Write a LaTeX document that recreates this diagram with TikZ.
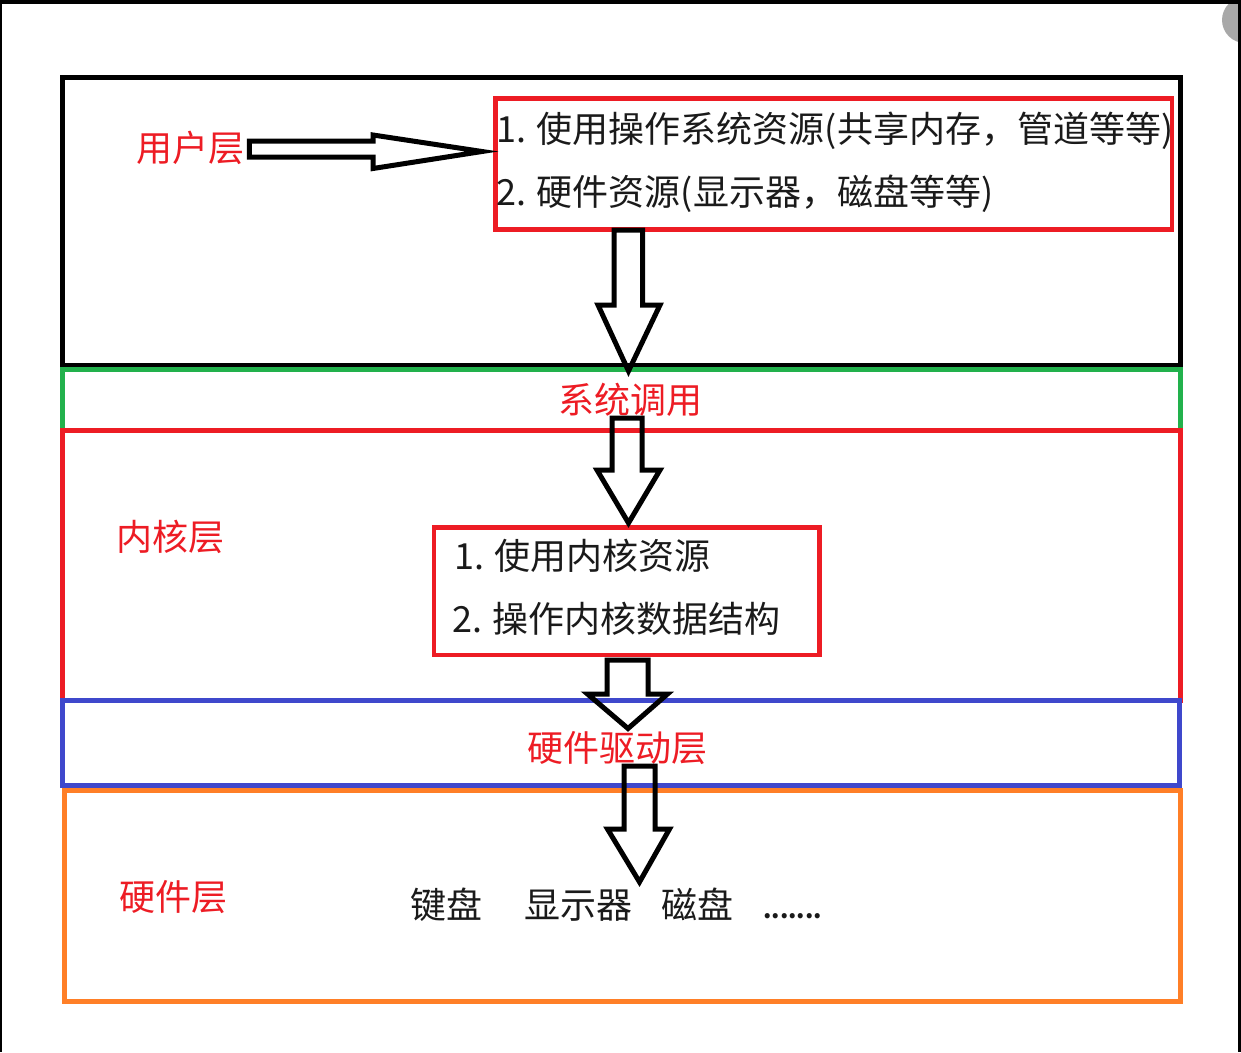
\documentclass[tikz,border=0pt]{standalone}
\usepackage{fontspec}
\setmainfont{Noto Sans CJK SC}
\definecolor{pred}{HTML}{ED1C24}
\definecolor{pgreen}{HTML}{22B14C}
\definecolor{pblue}{HTML}{3F48CC}
\definecolor{porange}{HTML}{FF7F27}
\definecolor{ink}{HTML}{1A1A1A}
\definecolor{badge}{HTML}{A8A8A8}
\newcommand\blockdown[8]{% shaft cx, shaft half, yT, yH, head cx, head half, tip x, tip y
  \draw[barrow] (#1-#2,#3) -- (#1+#2,#3) -- (#1+#2,#4) -- (#5+#6,#4) -- (#7,#8)
    -- (#5-#6,#4) -- (#1-#2,#4) -- cycle;}
\begin{document}
\begin{tikzpicture}[x=1pt,y=-1pt,
  layer/.style={draw=#1, line width=5pt, inner sep=0pt, fill=none},
  lbl/.style={font=\fontsize{36}{40}\selectfont, text=pred, inner sep=0pt},
  txt/.style={font=\fontsize{36}{40}\selectfont, text=ink, inner sep=0pt},
  barrow/.style={draw=black, line width=5pt, line join=miter, miter limit=20, fill=none}]
\useasboundingbox (0,0) rectangle (1241,1052);
% outer frame and corner badge
\begin{scope}
\clip (0,0) rectangle (1241,1052);
\fill[badge] (1245,20) circle (23);
\draw[black, line width=4pt] (0,1052) -- (0,1.5) -- (1239.5,1.5) -- (1239.5,1052);
\end{scope}
% layers
\node[layer=black, minimum width=1118.5pt, minimum height=288pt] (user) at (621.25,221) {};
\node[layer=pgreen, minimum width=1118.5pt, minimum height=61pt] (sys) at (621.25,399.5) {};
\node[layer=pred, minimum width=1118.5pt, minimum height=269.5pt] (kern) at (621.25,565.25) {};
\node[layer=pblue, minimum width=1117pt, minimum height=85pt] (drv) at (620.5,742.5) {};
\node[layer=porange, minimum width=1116pt, minimum height=210.5pt] (hw) at (622,895.75) {};
% inner boxes
\node[layer=pred, line width=4.5pt, minimum width=676.5pt, minimum height=131pt] (res) at (833.75,164) {};
\node[layer=pred, line width=4.5pt, minimum width=385.5pt, minimum height=127.5pt] (kres) at (626.75,591.25) {};
% texts
\node[lbl, anchor=west] (ulbl) at (136,148) {用户层};
\node[txt, anchor=west] (r1) at (496,131) {1. 使用操作系统资源(共享内存，管道等等)};
\node[txt, anchor=west] (r2) at (496,194) {2. 硬件资源(显示器，磁盘等等)};
\node[lbl] (slbl) at (630.5,400) {系统调用};
\node[lbl] (klbl) at (170,537) {内核层};
\node[txt, anchor=west] (k1) at (454,556) {1. 使用内核资源};
\node[txt, anchor=west] (k2) at (452,619) {2. 操作内核数据结构};
\node[lbl] (dlbl) at (617,748) {硬件驱动层};
\node[lbl] (hlbl) at (173,897) {硬件层};
\node[txt, anchor=base] (d1) at (446.5,918) {键盘};
\node[txt, anchor=base] (d2) at (578,918) {显示器};
\node[txt, anchor=base] (d3) at (697.5,918) {磁盘};
\node[txt, font=\fontsize{24}{28}\selectfont\bfseries, anchor=base west] (d4) at (763,918) {.......};
% arrows
\draw[barrow] (ulbl.east) ++(5,-7) coordinate (ra) -- (373,141) -- (373,135) -- (482,151.5)
  -- (373,168.5) -- (373,157) -- (ra |- 0,157) -- cycle;
\blockdown{628.25}{14.25}{230}{305}{629}{31}{628.5}{371}
\blockdown{627}{15}{418}{470}{628.5}{31.5}{628.5}{523}
\blockdown{627.5}{20.5}{660}{694}{627.5}{40}{628}{728.5}
\blockdown{639.5}{15.5}{766}{829}{638.5}{31}{639.5}{882}
\end{tikzpicture}
\end{document}
